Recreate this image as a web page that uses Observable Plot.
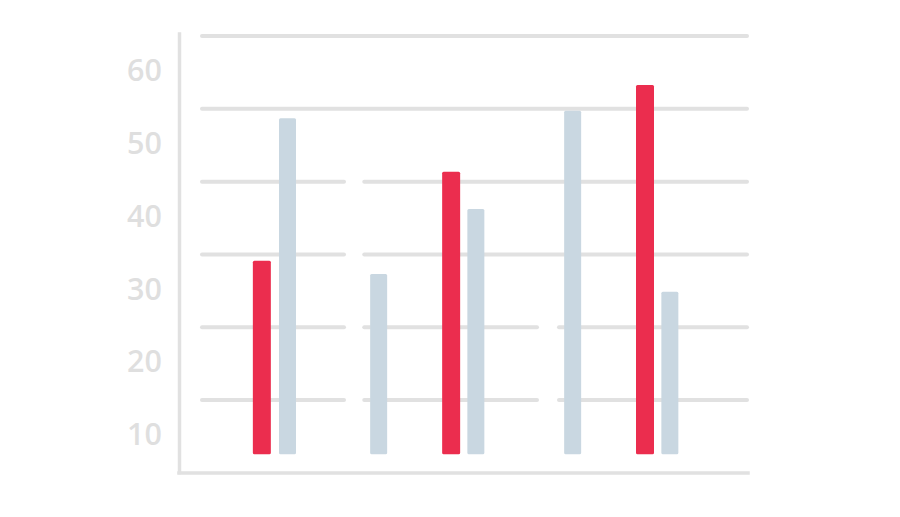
<!DOCTYPE html>
<html>
<head>
<meta charset="utf-8">
<script src="https://cdn.jsdelivr.net/npm/d3@7"></script>
<script src="https://cdn.jsdelivr.net/npm/@observablehq/plot@0.6"></script>
<style>
  html, body { margin: 0; padding: 0; background: #fff; }
  #chart svg { display: block; }
</style>
</head>
<body>
<div id="chart"></div>
<script>
// Tick labels on the value axis
const tickLabels = [10, 20, 30, 40, 50, 60];
// Gridline levels and the x-extent segments each one covers (slot units)
const gridLevels = [65, 55, 45, 45, 35, 35, 25, 25, 25, 15, 15, 15];
const gridStart  = [8.08, 8.08, 8.08, 14.57, 8.08, 14.57, 8.08, 14.57, 22.36, 8.08, 14.57, 22.36];
const gridEnd    = [29.88, 29.88, 13.76, 29.88, 13.76, 29.88, 13.76, 21.48, 29.88, 13.76, 21.48, 29.88];
// Bars: slot position, series, value
const barSlots  = [10.474, 11.5, 15.146, 18.046, 19.034, 22.906, 25.8, 26.794];
const barSeries = ["A", "B", "B", "A", "B", "B", "A", "B"];
const barValues = [34.07, 53.64, 32.24, 46.28, 41.16, 54.68, 58.21, 29.81];
const barBase = 7.5;
const axisX = 7.16, axisRight = 29.92, axisBottom = 5, axisTop = 65.2;
const labelX = 6.46;

const bars = barSlots.map((s, i) => ({slot: s, series: barSeries[i], value: barValues[i]}));
const grid = gridLevels.map((v, i) => ({y: v, x1: gridStart[i], x2: gridEnd[i]}));

const halfW = d => d.series === "A" ? 0.36 : 0.34;

const chart = Plot.plot({
  width: 900,
  height: 517,
  marginTop: 35.5,
  marginBottom: 44.6,
  marginLeft: 0,
  marginRight: 0,
  x: {domain: [0, 36], axis: null},
  y: {domain: [5, 65], axis: null},
  color: {domain: ["A", "B"], range: ["#eb2d4e", "#c9d7e1"]},
  style: {background: "#fff"},
  marks: [
    Plot.ruleY(grid, {y: "y", x1: "x1", x2: "x2", stroke: "#e1e1e1", strokeWidth: 4, strokeLinecap: "round"}),
    Plot.rect(bars, {
      x1: d => d.slot - halfW(d),
      x2: d => d.slot + halfW(d),
      y1: barBase,
      y2: "value",
      fill: "series",
      rx: 1.5
    }),
    Plot.ruleX([axisX], {y1: axisBottom, y2: axisTop, stroke: "#e1e1e1", strokeWidth: 3.5, strokeLinecap: "square"}),
    Plot.ruleY([axisBottom], {x1: axisX, x2: axisRight, stroke: "#e1e1e1", strokeWidth: 3.5, strokeLinecap: "square"}),
    Plot.text(tickLabels, {
      x: labelX,
      y: d => d,
      text: d => String(d),
      textAnchor: "end",
      fontSize: 30.5,
      fontWeight: 600,
      fontFamily: "'Open Sans', sans-serif",
      fill: "#dfdfdf",
      dy: -1
    })
  ]
});
document.getElementById("chart").append(chart);
</script>
</body>
</html>
